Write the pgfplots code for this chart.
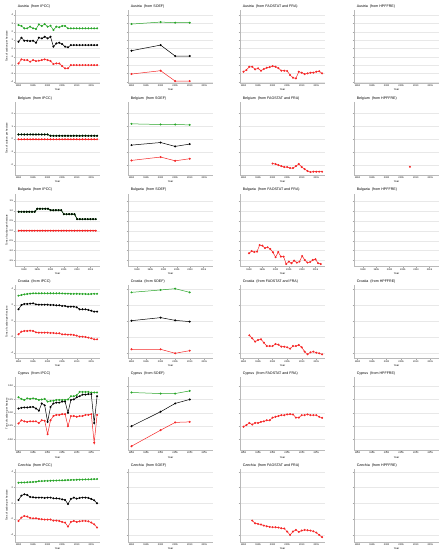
\documentclass[border=0pt]{standalone}
\usepackage{fontspec}
\setmainfont{Liberation Sans}
\usepackage{pgfplots}
\usepackage{pgfplotstable}
\pgfplotsset{compat=1.18}
\definecolor{cg}{RGB}{40,165,40}
\definecolor{cr}{RGB}{245,40,40}
\newcommand{\tf}{\fontsize{3.6}{4}\selectfont}
\newcommand{\kf}{\fontsize{2.4}{2.8}\selectfont}
\newcommand{\lf}{\fontsize{2.6}{3}\selectfont}

% ---------------- data ----------------
\pgfplotstableread{
yr g k r
1990 2.80 0.81 -1.78
1991 2.69 1.29 -1.30
1992 2.41 0.93 -1.38
1993 2.41 0.93 -1.38
1994 2.61 0.89 -1.58
1995 2.41 0.93 -1.38
1996 2.33 0.69 -1.50
1997 2.88 1.29 -1.46
1998 2.69 1.21 -1.38
1999 2.92 1.41 -1.30
2000 2.61 1.21 -1.38
2001 2.73 1.41 -1.50
2002 2.21 0.22 -1.86
2003 2.61 0.61 -1.78
2004 2.53 0.69 -1.78
2005 2.69 0.53 -2.10
2006 2.69 0.22 -2.37
2007 2.41 0.14 -2.37
2008 2.41 0.41 -1.98
2009 2.41 0.41 -1.98
2010 2.41 0.41 -1.98
2011 2.41 0.41 -1.98
2012 2.41 0.41 -1.98
2013 2.41 0.41 -1.98
2014 2.41 0.41 -1.98
2015 2.41 0.41 -1.98
2016 2.41 0.41 -1.98
2017 2.41 0.41 -1.98
}\atipcc
\pgfplotstableread{
yr g k r
1990 2.92 -0.26 -3.05
2000 3.16 0.41 -2.65
2005 3.08 -0.90 -3.89
2010 3.08 -0.90 -3.89
}\atsoef
\pgfplotstableread{
yr r
1990 -2.77
1991 -2.57
1992 -2.18
1993 -2.18
1994 -2.49
1995 -2.37
1996 -2.65
1997 -2.45
1998 -2.30
1999 -2.22
2000 -2.10
2001 -2.18
2002 -2.35
2003 -2.65
2004 -2.65
2005 -2.69
2006 -3.17
2007 -3.49
2008 -3.57
2009 -2.77
2010 -2.89
2011 -3.05
2012 -2.97
2013 -2.89
2014 -2.89
2015 -2.77
2016 -2.72
2017 -2.97
}\atfao

\pgfplotstableread{
yr g k r
1990 0.36 0.36 -0.01
1991 0.36 0.36 -0.01
1992 0.36 0.36 -0.01
1993 0.36 0.36 -0.01
1994 0.36 0.36 -0.01
1995 0.36 0.36 -0.01
1996 0.36 0.36 -0.01
1997 0.36 0.36 -0.01
1998 0.36 0.36 -0.01
1999 0.36 0.36 -0.01
2000 0.36 0.36 -0.01
2001 0.26 0.26 -0.01
2002 0.26 0.26 -0.01
2003 0.26 0.26 -0.01
2004 0.26 0.26 -0.01
2005 0.26 0.26 -0.01
2006 0.26 0.26 -0.01
2007 0.26 0.26 -0.01
2008 0.26 0.26 -0.01
2009 0.26 0.26 -0.01
2010 0.26 0.26 -0.01
2011 0.26 0.26 -0.01
2012 0.26 0.26 -0.01
2013 0.26 0.26 -0.01
2014 0.26 0.26 -0.01
2015 0.26 0.26 -0.01
2016 0.26 0.26 -0.01
2017 0.26 0.26 -0.01
}\beipcc
\pgfplotstableread{
yr g k r
1990 1.18 -0.46 -1.64
2000 1.13 -0.26 -1.38
2005 1.13 -0.56 -1.67
2010 1.10 -0.38 -1.51
}\besoef
\pgfplotstableread{
yr r
2000 -1.88
2001 -1.92
2002 -2.00
2003 -2.08
2004 -2.15
2005 -2.15
2006 -2.23
2007 -2.23
2008 -2.08
2009 -1.92
2010 -2.15
2011 -2.31
2012 -2.46
2013 -2.54
2014 -2.51
2015 -2.51
2016 -2.51
2017 -2.51
}\befao
\pgfplotstableread{
yr r
2008 -2.13
}\behp

\pgfplotstableread{
yr g k r
1988 0.95 0.95 0.0
1989 0.95 0.95 0.0
1990 0.95 0.95 0.0
1991 0.95 0.95 0.0
1992 0.95 0.95 0.0
1993 0.95 0.95 0.0
1994 0.95 0.95 0.0
1995 1.10 1.10 0.0
1996 1.10 1.10 0.0
1997 1.10 1.10 0.0
1998 1.10 1.10 0.0
1999 1.10 1.10 0.0
2000 1.03 1.03 0.0
2001 1.03 1.03 0.0
2002 1.03 1.03 0.0
2003 1.03 1.03 0.0
2004 1.03 1.03 0.0
2005 0.83 0.83 0.0
2006 0.83 0.83 0.0
2007 0.83 0.83 0.0
2008 0.83 0.83 0.0
2009 0.83 0.83 0.0
2010 0.58 0.58 0.0
2011 0.58 0.58 0.0
2012 0.58 0.58 0.0
2013 0.58 0.58 0.0
2014 0.58 0.58 0.0
2015 0.58 0.58 0.0
2016 0.58 0.58 0.0
2017 0.58 0.58 0.0
}\bgipcc
\pgfplotstableread{
yr r
1990 -1.13
1991 -1.02
1992 -1.07
1993 -1.05
1994 -0.72
1995 -0.75
1996 -0.87
1997 -0.83
1998 -0.92
1999 -1.08
2000 -1.33
2001 -1.07
2002 -1.30
2003 -1.30
2004 -1.67
2005 -1.55
2006 -1.63
2007 -1.50
2008 -1.60
2009 -1.55
2010 -1.27
2011 -1.47
2012 -1.60
2013 -1.57
2014 -1.47
2015 -1.43
2016 -1.63
2017 -1.67
}\bgfao

\pgfplotstableread{
yr g k r
1990 3.17 1.46 -1.67
1991 3.25 2.00 -1.33
1992 3.33 2.13 -1.25
1993 3.38 2.13 -1.25
1994 3.42 2.17 -1.21
1995 3.46 2.21 -1.25
1996 3.46 2.08 -1.42
1997 3.46 2.04 -1.46
1998 3.46 2.04 -1.46
1999 3.46 2.04 -1.46
2000 3.46 2.04 -1.46
2001 3.46 2.00 -1.50
2002 3.46 2.00 -1.50
2003 3.46 1.96 -1.54
2004 3.46 1.96 -1.54
2005 3.44 1.88 -1.67
2006 3.42 1.88 -1.67
2007 3.42 1.79 -1.71
2008 3.40 1.79 -1.71
2009 3.40 1.79 -1.75
2010 3.40 1.71 -1.83
2011 3.38 1.46 -1.96
2012 3.38 1.46 -1.96
2013 3.38 1.46 -2.00
2014 3.36 1.38 -2.08
2015 3.38 1.29 -2.17
2016 3.40 1.17 -2.29
2017 3.40 1.17 -2.29
}\hripcc
\pgfplotstableread{
yr g k r
1990 3.58 0.04 -3.54
2000 3.88 0.42 -3.54
2005 4.04 0.08 -4.04
2010 3.58 -0.08 -3.71
}\hrsoef
\pgfplotstableread{
yr r
1992 -1.79
1993 -2.17
1994 -2.58
1995 -2.38
1996 -2.29
1997 -2.71
1998 -3.13
1999 -3.13
2000 -3.13
2001 -2.88
2002 -2.96
2003 -3.21
2004 -3.21
2005 -3.29
2006 -3.46
2007 -3.13
2008 -3.13
2009 -3.00
2010 -3.29
2011 -3.83
2012 -4.17
2013 -3.92
2014 -3.83
2015 -3.96
2016 -4.04
2017 -4.17
}\hrfao

\pgfplotstableread{
yr g k r
1990 0.29 0.080 -0.200
1991 0.26 0.094 -0.140
1992 0.24 0.100 -0.160
1993 0.27 0.100 -0.170
1994 0.26 0.106 -0.160
1995 0.27 0.110 -0.160
1996 0.26 0.080 -0.160
1997 0.24 0.040 -0.190
1998 0.25 0.175 -0.140
1999 0.26 0.140 -0.150
2000 0.21 -0.170 -0.400
2001 0.22 0.110 -0.140
2002 0.225 0.175 -0.060
2003 0.24 0.190 -0.040
2004 0.24 0.190 -0.040
2005 0.24 0.210 -0.025
2006 0.24 0.210 -0.025
2007 0.25 0.000 -0.250
2008 0.31 0.240 -0.060
2009 0.31 0.250 -0.060
2010 0.33 0.290 -0.075
2011 0.39 0.310 -0.060
2012 0.39 0.340 -0.060
2013 0.39 0.340 -0.040
2014 0.39 0.350 -0.040
2015 0.38 0.350 -0.025
2016 0.38 -0.190 -0.560
2017 0.38 0.310 -0.040
}\cyipcc
\pgfplotstableread{
yr g k r
1990 0.38 -0.25 -0.625
2000 0.36 0.02 -0.325
2005 0.36 0.175 -0.18
2010 0.41 0.25 -0.17
}\cysoef
\pgfplotstableread{
yr r
1990 -0.260
1991 -0.230
1992 -0.190
1993 -0.220
1994 -0.190
1995 -0.190
1996 -0.170
1997 -0.160
1998 -0.140
1999 -0.140
2000 -0.090
2001 -0.075
2002 -0.060
2003 -0.044
2004 -0.044
2005 -0.030
2006 -0.025
2007 -0.030
2008 -0.090
2009 -0.090
2010 -0.044
2011 -0.044
2012 -0.030
2013 -0.044
2014 -0.044
2015 -0.044
2016 -0.075
2017 -0.094
}\cyfao

\pgfplotstableread{
yr g k r
1990 2.61 0.42 -2.23
1991 2.63 0.97 -1.81
1992 2.64 1.14 -1.60
1993 2.66 1.05 -1.68
1994 2.68 0.80 -1.85
1995 2.70 0.76 -1.90
1996 2.72 0.72 -1.90
1997 2.80 0.72 -1.98
1998 2.81 0.72 -2.02
1999 2.83 0.68 -2.06
2000 2.84 0.72 -2.06
2001 2.86 0.72 -2.06
2002 2.87 0.63 -2.19
2003 2.88 0.63 -2.19
2004 2.90 0.59 -2.23
2005 2.91 0.50 -2.36
2006 2.92 0.42 -2.44
2007 2.94 -0.08 -2.95
2008 2.95 0.55 -2.36
2009 2.96 0.72 -2.23
2010 2.98 0.59 -2.36
2011 2.99 0.68 -2.28
2012 3.00 0.72 -2.23
2013 3.02 0.72 -2.23
2014 3.03 0.68 -2.28
2015 3.04 0.55 -2.44
2016 3.06 0.38 -2.66
2017 3.07 0.00 -3.07
}\czipcc
\pgfplotstableread{
yr r
1993 -2.19
1994 -2.53
1995 -2.61
1996 -2.69
1997 -2.82
1998 -2.91
1999 -2.99
2000 -3.03
2001 -3.03
2002 -3.07
2003 -3.16
2004 -3.20
2005 -3.58
2006 -4.00
2007 -3.58
2008 -3.37
2009 -3.62
2010 -3.45
2011 -3.37
2012 -3.41
2013 -3.45
2014 -3.54
2015 -3.71
2016 -4.00
2017 -4.29
}\czfao

\pgfplotsset{
  base/.style={scale only axis, width=85pt, height=73pt, anchor=north west,
    xmin=1988.8, xmax=2018, xtick={1990,1995,2000,2005,2010,2015},
    axis x line*=bottom, axis y line*=left,
    axis line style={gray!55, line width=0.35pt, -},
    ymajorgrids, grid style={gray!18, line width=0.35pt},
    tick style={gray!70, line width=0.3pt}, major tick length=1.3pt, tick align=outside,
    tick label style={font=\kf, inner sep=0.6pt},
    /pgf/number format/assume math mode=true,
    xticklabel style={/pgf/number format/1000 sep={}},
    xlabel={Year},
    every axis x label/.style={at={(axis description cs:0.5,-0.095)}, anchor=center, font=\lf},
    every axis title/.style={at={(0.03,1)}, anchor=base west, yshift=2.7pt, inner sep=0pt, font=\tf},
    clip=false},
  first/.style={ylabel={Tons of carbon per hectare},
    every axis y label/.style={at={(axis description cs:-0.094,0.5)}, anchor=center, rotate=90, font=\lf}},
  other/.style={yticklabels={}},
  rA/.style={ymin=-4.12, ymax=4.6, ytick={-4,-3,...,4}},
  rB/.style={ymin=-2.75, ymax=2.88, ytick={-2,-1,...,2}},
  rC/.style={ymin=-1.8, ymax=1.86, ytick={-1.5,-1,...,1.5}, xmin=1986.6, xmax=2018.6,
    yticklabel style={/pgf/number format/.cd, fixed, fixed zerofill, precision=1}},
  rD/.style={ymin=-4.68, ymax=4.45, ytick={-4,-2,...,4}},
  rE/.style={ymin=-0.70, ymax=0.666, ytick={-0.5,-0.25,...,0.5},
    yticklabel style={/pgf/number format/.cd, fixed, fixed zerofill, precision=2}},
  rF/.style={ymin=-4.9, ymax=4.34, ytick={-4,-2,...,4}},
  G/.style={color=cg, mark=*, mark size=0.75pt, line width=0.5pt},
  K/.style={color=black, mark=*, mark size=0.75pt, line width=0.5pt},
  R/.style={color=cr, mark=*, mark size=0.75pt, line width=0.5pt},
}

\begin{document}
\begin{tikzpicture}
\useasboundingbox (0,0) rectangle (447pt,-550pt);
% ===== Row 1 Austria =====
\begin{axis}[base, rA, first, at={(15pt,-10pt)}, title={Austria\ \ (from IPCC)}]
\addplot[G] table[x=yr,y=g]{\atipcc};
\addplot[K] table[x=yr,y=k]{\atipcc};
\addplot[R] table[x=yr,y=r]{\atipcc};
\end{axis}
\begin{axis}[base, rA, other, at={(128pt,-10pt)}, title={Austria\ \ (from SOEF)}]
\addplot[G] table[x=yr,y=g]{\atsoef};
\addplot[K] table[x=yr,y=k]{\atsoef};
\addplot[R] table[x=yr,y=r]{\atsoef};
\end{axis}
\begin{axis}[base, rA, other, at={(240pt,-10pt)}, title={Austria\ \ (from FAOSTAT and FRA)}]
\addplot[R] table[x=yr,y=r]{\atfao};
\end{axis}
\begin{axis}[base, rA, other, at={(354pt,-10pt)}, title={Austria\ \ (from HPFFRE)}]
\end{axis}
% ===== Row 2 Belgium =====
\begin{axis}[base, rB, first, at={(15pt,-101.8pt)}, title={Belgium\ \ (from IPCC)}]
\addplot[G] table[x=yr,y=g]{\beipcc};
\addplot[K] table[x=yr,y=k]{\beipcc};
\addplot[R] table[x=yr,y=r]{\beipcc};
\end{axis}
\begin{axis}[base, rB, other, at={(128pt,-101.8pt)}, title={Belgium\ \ (from SOEF)}]
\addplot[G] table[x=yr,y=g]{\besoef};
\addplot[K] table[x=yr,y=k]{\besoef};
\addplot[R] table[x=yr,y=r]{\besoef};
\end{axis}
\begin{axis}[base, rB, other, at={(240pt,-101.8pt)}, title={Belgium\ \ (from FAOSTAT and FRA)}]
\addplot[R] table[x=yr,y=r]{\befao};
\end{axis}
\begin{axis}[base, rB, other, at={(354pt,-101.8pt)}, title={Belgium\ \ (from HPFFRE)}]
\addplot[R, only marks] table[x=yr,y=r]{\behp};
\end{axis}
% ===== Row 3 Bulgaria =====
\begin{axis}[base, rC, first, at={(15pt,-193.6pt)}, title={Bulgaria\ \ (from IPCC)}]
\addplot[G] table[x=yr,y=g]{\bgipcc};
\addplot[K] table[x=yr,y=k]{\bgipcc};
\addplot[R] table[x=yr,y=r]{\bgipcc};
\end{axis}
\begin{axis}[base, rC, other, at={(128pt,-193.6pt)}, title={Bulgaria\ \ (from SOEF)}]
\end{axis}
\begin{axis}[base, rC, other, at={(240pt,-193.6pt)}, title={Bulgaria\ \ (from FAOSTAT and FRA)}]
\addplot[R] table[x=yr,y=r]{\bgfao};
\end{axis}
\begin{axis}[base, rC, other, at={(354pt,-193.6pt)}, title={Bulgaria\ \ (from HPFFRE)}]
\end{axis}
% ===== Row 4 Croatia =====
\begin{axis}[base, rD, first, at={(15pt,-285.4pt)}, title={Croatia\ \ (from IPCC)}]
\addplot[G] table[x=yr,y=g]{\hripcc};
\addplot[K] table[x=yr,y=k]{\hripcc};
\addplot[R] table[x=yr,y=r]{\hripcc};
\end{axis}
\begin{axis}[base, rD, other, at={(128pt,-285.4pt)}, title={Croatia\ \ (from SOEF)}]
\addplot[G] table[x=yr,y=g]{\hrsoef};
\addplot[K] table[x=yr,y=k]{\hrsoef};
\addplot[R] table[x=yr,y=r]{\hrsoef};
\end{axis}
\begin{axis}[base, rD, other, at={(240pt,-285.4pt)}, title={Croatia\ \ (from FAOSTAT and FRA)}]
\addplot[R] table[x=yr,y=r]{\hrfao};
\end{axis}
\begin{axis}[base, rD, other, at={(354pt,-285.4pt)}, title={Croatia\ \ (from HPFFRE)}]
\end{axis}
% ===== Row 5 Cyprus =====
\begin{axis}[base, rE, first, at={(15pt,-377.2pt)}, title={Cyprus\ \ (from IPCC)}]
\addplot[G] table[x=yr,y=g]{\cyipcc};
\addplot[K] table[x=yr,y=k]{\cyipcc};
\addplot[R] table[x=yr,y=r]{\cyipcc};
\end{axis}
\begin{axis}[base, rE, other, at={(128pt,-377.2pt)}, title={Cyprus\ \ (from SOEF)}]
\addplot[G] table[x=yr,y=g]{\cysoef};
\addplot[K] table[x=yr,y=k]{\cysoef};
\addplot[R] table[x=yr,y=r]{\cysoef};
\end{axis}
\begin{axis}[base, rE, other, at={(240pt,-377.2pt)}, title={Cyprus\ \ (from FAOSTAT and FRA)}]
\addplot[R] table[x=yr,y=r]{\cyfao};
\end{axis}
\begin{axis}[base, rE, other, at={(354pt,-377.2pt)}, title={Cyprus\ \ (from HPFFRE)}]
\end{axis}
% ===== Row 6 Czechia =====
\begin{axis}[base, rF, first, at={(15pt,-469pt)}, title={Czechia\ \ (from IPCC)}]
\addplot[G] table[x=yr,y=g]{\czipcc};
\addplot[K] table[x=yr,y=k]{\czipcc};
\addplot[R] table[x=yr,y=r]{\czipcc};
\end{axis}
\begin{axis}[base, rF, other, at={(128pt,-469pt)}, title={Czechia\ \ (from SOEF)}]
\end{axis}
\begin{axis}[base, rF, other, at={(240pt,-469pt)}, title={Czechia\ \ (from FAOSTAT and FRA)}]
\addplot[R] table[x=yr,y=r]{\czfao};
\end{axis}
\begin{axis}[base, rF, other, at={(354pt,-469pt)}, title={Czechia\ \ (from HPFFRE)}]
\end{axis}
\end{tikzpicture}
\end{document}
